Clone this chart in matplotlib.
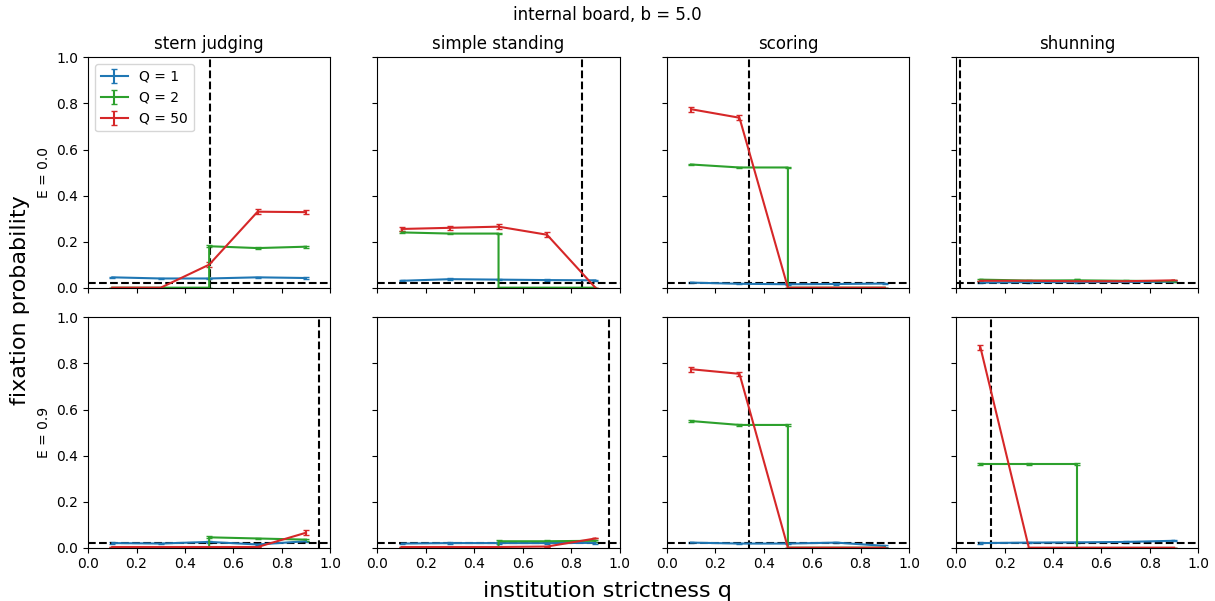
import numpy as np
import matplotlib
matplotlib.use("Agg")
import matplotlib.pyplot as plt

# ===== data =====
norms = ["stern judging", "simple standing", "scoring", "shunning"]
errors_E = ["E = 0.0", "E = 0.9"]
q1 = [0.1, 0.3, 0.5, 0.7, 0.9]
q2 = [0.1, 0.3, 0.5, 0.5, 0.7, 0.9]   # Q = 2 jumps at q = 0.5
q50 = [0.1, 0.3, 0.5, 0.7, 0.9]

# [row][col] -> values
Q1_vals = [
    [[0.045, 0.040, 0.040, 0.045, 0.042],
     [0.030, 0.037, 0.035, 0.033, 0.032],
     [0.022, 0.017, 0.015, 0.016, 0.018],
     [0.022, 0.024, 0.024, 0.025, 0.026]],
    [[0.020, 0.018, 0.025, 0.014, 0.028],
     [0.018, 0.020, 0.020, 0.020, 0.021],
     [0.022, 0.018, 0.018, 0.022, 0.008],
     [0.020, 0.022, 0.023, 0.025, 0.030]],
]
Q2_vals = [
    [[0.0, 0.0, 0.0, 0.180, 0.172, 0.178],
     [0.240, 0.235, 0.235, 0.0, 0.0, 0.0],
     [0.535, 0.522, 0.522, 0.0, 0.0, 0.0],
     [0.035, 0.031, 0.032, 0.032, 0.030, 0.028]],
    [[0.0, 0.0, 0.0, 0.045, 0.040, 0.035],
     [0.0, 0.0, 0.0, 0.028, 0.028, 0.030],
     [0.550, 0.533, 0.533, 0.0, 0.0, 0.0],
     [0.365, 0.365, 0.365, 0.0, 0.0, 0.0]],
]
Q50_vals = [
    [[0.0, 0.0, 0.100, 0.330, 0.328],
     [0.255, 0.260, 0.265, 0.230, 0.0],
     [0.775, 0.738, 0.0, 0.0, 0.0],
     [0.030, 0.030, 0.028, 0.028, 0.032]],
    [[0.003, 0.003, 0.003, 0.003, 0.065],
     [0.003, 0.003, 0.003, 0.005, 0.040],
     [0.775, 0.755, 0.0, 0.0, 0.0],
     [0.870, 0.0, 0.0, 0.0, 0.0]],
]
Q1_err = 0.003
Q2_err = 0.004
Q50_err = 0.010

# critical q (vertical dashed) per [row][col]
q_crit = [[0.505, 0.845, 0.34, 0.015],
          [0.952, 0.957, 0.34, 0.143]]
neutral = 0.02   # 1/N

fig, axes = plt.subplots(2, 4, figsize=(12.15, 6.01), dpi=100, sharex=True, sharey=True)
fig.subplots_adjust(left=0.0725, right=0.9863, top=0.9045, bottom=0.0887, wspace=0.195, hspace=0.129)

for r in range(2):
    for c in range(4):
        ax = axes[r, c]
        ax.errorbar(q1, Q1_vals[r][c], yerr=Q1_err, color="tab:blue", capsize=2, lw=1.5, label="Q = 1")
        ax.errorbar(q2, Q2_vals[r][c], yerr=[Q2_err if v > 0 else 0 for v in Q2_vals[r][c]],
                    color="tab:green", capsize=2, lw=1.5, label="Q = 2")
        ax.errorbar(q50, Q50_vals[r][c], yerr=[Q50_err if v > 0.05 else 0 for v in Q50_vals[r][c]],
                    color="tab:red", capsize=2.5, lw=1.5, label="Q = 50")
        ax.axhline(neutral, color="k", ls="--", lw=1.5)
        ax.axvline(q_crit[r][c], color="k", ls="--", lw=1.5)
        ax.set_xlim(0, 1)
        ax.set_ylim(0, 1)
        if r == 0:
            ax.set_title(norms[c], fontsize=12)
        if c == 0:
            ax.set_ylabel(errors_E[r], fontsize=10)

axes[0, 0].legend(loc="upper left", fontsize=10)
fig.suptitle("internal board, b = 5.0", fontsize=12, y=0.99)
fig.supxlabel("institution strictness q", fontsize=16, y=0.0)
fig.supylabel("fixation probability", fontsize=16, x=0.008)

plt.savefig("out.png")
